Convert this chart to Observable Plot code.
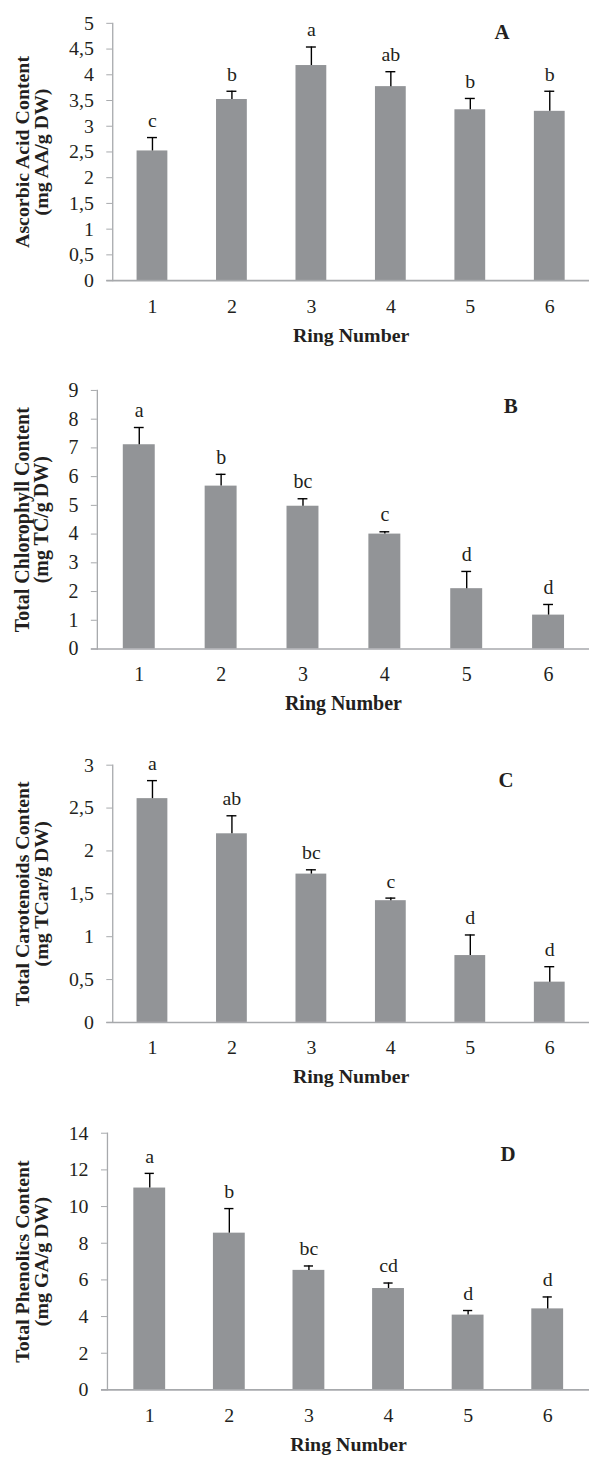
<!DOCTYPE html>
<html>
<head>
<meta charset="utf-8">
<script src="https://cdn.jsdelivr.net/npm/d3@7"></script>
<script src="https://cdn.jsdelivr.net/npm/@observablehq/plot@0.6"></script>
<style>
  html, body { margin: 0; padding: 0; background: #fff; width: 589px; height: 1457px; overflow: hidden; }
  .panel { position: absolute; left: 0; }
</style>
</head>
<body>
<div id="root"></div>
<script>
const rings = [1, 2, 3, 4, 5, 6];

const ascorbic = [2.52, 3.52, 4.18, 3.77, 3.32, 3.29];
const ascorbicErr = [0.26, 0.16, 0.36, 0.29, 0.22, 0.39];
const ascorbicLetters = ["c", "b", "a", "ab", "b", "b"];

const chlorophyll = [7.11, 5.67, 4.97, 4.00, 2.10, 1.18];
const chlorophyllErr = [0.60, 0.41, 0.26, 0.08, 0.60, 0.37];
const chlorophyllLetters = ["a", "b", "bc", "c", "d", "d"];

const carotenoids = [2.61, 2.20, 1.73, 1.42, 0.78, 0.47];
const carotenoidsErr = [0.21, 0.21, 0.05, 0.03, 0.24, 0.18];
const carotenoidsLetters = ["a", "ab", "bc", "c", "d", "d"];

const phenolics = [11.01, 8.55, 6.52, 5.53, 4.08, 4.42];
const phenolicsErr = [0.80, 1.34, 0.24, 0.30, 0.25, 0.65];
const phenolicsLetters = ["a", "b", "bc", "cd", "d", "d"];

const yTicksA = [0, 0.5, 1, 1.5, 2, 2.5, 3, 3.5, 4, 4.5, 5];
const yTicksB = [0, 1, 2, 3, 4, 5, 6, 7, 8, 9];
const yTicksC = [0, 0.5, 1, 1.5, 2, 2.5, 3];
const yTicksD = [0, 2, 4, 6, 8, 10, 12, 14];

const xTitle = "Ring Number";

const panels = [
  {top: 0, mt: 23, h: 259, ml: 113, width: 593, inset: 24.5, values: ascorbic, err: ascorbicErr, letters: ascorbicLetters,
   ticks: yTicksA, max: 5, label: "A", labelDx: -88, labelDy: 9,
   title: "Ascorbic Acid Content\n(mg AA/g DW)", titleDx: -81},
  {top: 360, mt: 30, h: 259, ml: 97, width: 590, inset: 25, values: chlorophyll, err: chlorophyllErr, letters: chlorophyllLetters,
   ticks: yTicksB, max: 9, label: "B", labelDx: -79, labelDy: 16,
   title: "Total Chlorophyll Content\n(mg TC/g DW)", titleDx: -65},
  {top: 720, mt: 45, h: 259, ml: 113, width: 593, inset: 24.5, values: carotenoids, err: carotenoidsErr, letters: carotenoidsLetters,
   ticks: yTicksC, max: 3, label: "C", labelDx: -84, labelDy: 15,
   title: "Total Carotenoids Content\n(mg TCar/g DW)", titleDx: -81},
  {top: 1080, mt: 53, h: 258, ml: 107.5, width: 592, inset: 24, values: phenolics, err: phenolicsErr, letters: phenolicsLetters,
   ticks: yTicksD, max: 14, label: "D", labelDx: -82, labelDy: 21,
   title: "Total Phenolics Content\n(mg GA/g DW)", titleDx: -75.5}
];

const axisGray = "#a7a9ac";
const barGray = "#929497";
const ink = "#231f20";
const fmt = d => String(d).replace(".", ",");

const root = document.getElementById("root");

for (const p of panels) {
  const data = rings.map((r, i) => ({ring: r, v: p.values[i], e: p.err[i], top: p.values[i] + p.err[i], letter: p.letters[i]}));
  const mb = 70;
  const capInset = (p.width - p.ml) / 12 - 5;
  const chart = Plot.plot({
    width: p.width,
    height: p.mt + p.h + mb,
    marginTop: p.mt,
    marginBottom: mb,
    marginLeft: p.ml,
    marginRight: 0,
    style: {fontFamily: "'Liberation Serif', 'Times New Roman', serif", background: "none", color: ink, overflow: "visible"},
    x: {type: "band", domain: rings, padding: 0, label: null},
    y: {domain: [0, p.max], label: null},
    marks: [
      Plot.barY(data, {x: "ring", y: "v", fill: barGray, insetLeft: p.inset, insetRight: p.inset}),
      Plot.ruleX(data, {x: "ring", y1: "v", y2: "top", stroke: "black", strokeWidth: 1.4}),
      Plot.tickY(data, {x: "ring", y: "top", stroke: "black", strokeWidth: 1.4, insetLeft: capInset, insetRight: capInset}),
      Plot.text(data, {x: "ring", y: "top", text: "letter", dy: -17, fontSize: 20, fill: ink}),
      Plot.frame({anchor: "left", stroke: axisGray, strokeWidth: 1.3}),
      Plot.ruleY([0], {stroke: axisGray, strokeWidth: 1.6, insetLeft: -6}),
      Plot.axisY({ticks: p.ticks, tickFormat: fmt, tickSize: 6, tickPadding: 13, stroke: axisGray, fontSize: 20, fill: ink, label: null}),
      Plot.axisX({tickSize: 0, tickPadding: 18, fontSize: 20, fill: ink, label: null}),
      Plot.text([xTitle], {frameAnchor: "bottom", dy: 55, text: d => d, fontSize: 20, fontWeight: "bold", fill: ink, lineAnchor: "middle", textAnchor: "middle"}),
      Plot.text([p.title], {frameAnchor: "left", dx: p.titleDx, text: d => d, rotate: -90, fontSize: 20, fontWeight: "bold", fill: ink, lineAnchor: "middle", lineHeight: 0.98, textAnchor: "middle"}),
      Plot.text([p.label], {frameAnchor: "top-right", dx: p.labelDx, dy: p.labelDy, text: d => d, fontSize: 21, fontWeight: "bold", fill: ink, lineAnchor: "middle", textAnchor: "middle"})
    ]
  });
  chart.classList.add("panel");
  chart.style.top = p.top + "px";
  root.appendChild(chart);
}
</script>
</body>
</html>
